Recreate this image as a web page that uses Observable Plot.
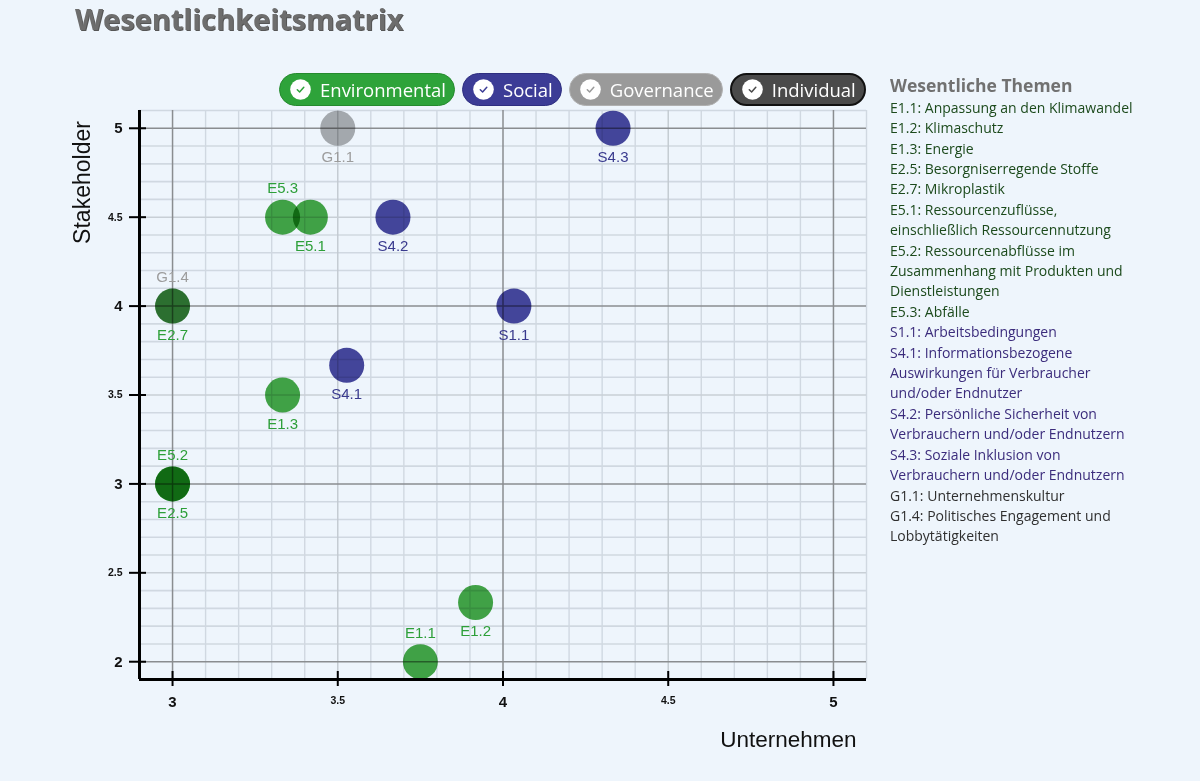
<!DOCTYPE html>
<html>
<head>
<meta charset="utf-8">
<script src="https://cdn.jsdelivr.net/npm/d3@7"></script>
<script src="https://cdn.jsdelivr.net/npm/@observablehq/plot@0.6"></script>
<style>
  html, body { margin: 0; padding: 0; background: #eef5fc; width: 1200px; height: 781px; overflow: hidden; }
  #chart { position: absolute; left: 0; top: 0; }
  #title { position: absolute; left: 75px; top: -1px; line-height: 40px; font: 700 29px "Open Sans", sans-serif; color: #6d6d6d; text-shadow: 1px 1px 0 #555; white-space: nowrap; }
  #pills { position: absolute; left: 279px; top: 73px; display: flex; gap: 7px; }
  .pill { box-sizing: border-box; height: 33px; border-radius: 17px; padding: 0 8px 0 10px; display: flex; align-items: center; gap: 9px; color: #fff; font: 400 18.5px "Open Sans", sans-serif; white-space: nowrap; }
  .pill svg { display: block; }
  #themes { position: absolute; left: 890px; top: 74px; width: 300px; }
  #themes .head { font: 700 17.5px "Open Sans", sans-serif; color: #717171; line-height: 22px; margin-bottom: 1.8px; white-space: nowrap; }
  #themes .item { font: 400 14px "Open Sans", sans-serif; line-height: 20.4px; white-space: pre-line; }
</style>
</head>
<body>
<div id="chart"></div>
<div id="title">Wesentlichkeitsmatrix</div>
<div id="pills"></div>
<div id="themes"></div>
<script>
// ---- data ----
const ids = ["E1.1","E1.2","E1.3","E2.5","E2.7","E5.1","E5.2","E5.3","S1.1","S4.1","S4.2","S4.3","G1.1","G1.4"];
const unternehmen = [3.75, 3.917, 3.333, 3, 3, 3.417, 3, 3.333, 4.033, 3.527, 3.667, 4.333, 3.5, 3];
const stakeholder = [2, 2.333, 3.5, 3, 4, 4.5, 3, 4.5, 4, 3.667, 4.5, 5, 5, 4];
const groups = ["Environmental","Environmental","Environmental","Environmental","Environmental","Environmental","Environmental","Environmental","Social","Social","Social","Social","Governance","Governance"];
const labelSide = ["above","below","below","below","below","below","above","above","below","below","below","below","below","above"];
const themeNames = [
  "Anpassung an den Klimawandel",
  "Klimaschutz",
  "Energie",
  "Besorgniserregende Stoffe",
  "Mikroplastik",
  "Ressourcenzuflüsse,\neinschließlich Ressourcennutzung",
  "Ressourcenabflüsse im\nZusammenhang mit Produkten und\nDienstleistungen",
  "Abfälle",
  "Arbeitsbedingungen",
  "Informationsbezogene\nAuswirkungen für Verbraucher\nund/oder Endnutzer",
  "Persönliche Sicherheit von\nVerbrauchern und/oder Endnutzern",
  "Soziale Inklusion von\nVerbrauchern und/oder Endnutzern",
  "Unternehmenskultur",
  "Politisches Engagement und\nLobbytätigkeiten"
];
const legendCategories = ["Environmental","Social","Governance","Individual"];
const xTickValues = [3, 3.5, 4, 4.5, 5];
const xTickLabels = ["3", "3.5", "4", "4.5", "5"];
const yTickValues = [2, 2.5, 3, 3.5, 4, 4.5, 5];
const yTickLabels = ["2", "2.5", "3", "3.5", "4", "4.5", "5"];
const xAxisTitle = "Unternehmen";
const yAxisTitle = "Stakeholder";
const listTitle = "Wesentliche Themen";

// ---- styles ----
const dotFill = {Environmental: "#259a29", Social: "#2a2a8c", Governance: "#a2a2a2"};
const labelFill = {Environmental: "#2d9f39", Social: "#393a8e", Governance: "#9c9c9c"};
const listFill = {Environmental: "#1c4a1c", Social: "#3b2c7c", Governance: "#2f2f2f"};
const pillFill = {Environmental: "#2ea33a", Social: "#3c3c96", Governance: "#9a9a9a", Individual: "#4a4a4a"};
const pillBorder = {Environmental: "#258a2e", Social: "#2e2e80", Governance: "#b0b0b0", Individual: "#111"};

const data = ids.map((id, i) => ({id, x: unternehmen[i], y: stakeholder[i], group: groups[i], side: labelSide[i]}));

const gridX = d3.range(29, 52).map(v => v / 10);
const gridY = d3.range(19, 52).map(v => v / 10);
const isInt = v => Math.abs(v - Math.round(v)) < 1e-9;
const isHalf = v => !isInt(v) && Math.abs(v * 2 - Math.round(v * 2)) < 1e-9;

const xMin = 2.9, yMin = 1.9;

const plot = Plot.plot({
  width: 880,
  height: 781,
  marginLeft: 139,
  marginRight: 14,
  marginTop: 110,
  marginBottom: 102,
  x: {domain: [2.9, 5.1], axis: null},
  y: {domain: [1.9, 5.1], axis: null},
  color: {type: "identity"},
  style: {background: "transparent", fontFamily: "'Liberation Sans', Arial, sans-serif", overflow: "visible"},
  marks: [
    // minor grid
    Plot.ruleX(gridX.filter(v => !isInt(v) && !isHalf(v) && v > 2.95), {stroke: "#d0d8e1", strokeWidth: 1.4}),
    Plot.ruleY(gridY.filter(v => !isInt(v) && !isHalf(v) && v > 1.95), {stroke: "#d0d8e1", strokeWidth: 1.6}),
    Plot.ruleX(gridX.filter(isHalf), {stroke: "#c2c9d0", strokeWidth: 1.4}),
    Plot.ruleY(gridY.filter(isHalf), {stroke: "#c8cfd6", strokeWidth: 1.6}),
    // major grid
    Plot.ruleX(gridX.filter(isInt), {stroke: "#8a8d90", strokeWidth: 1.5}),
    Plot.ruleY(gridY.filter(isInt), {stroke: "#8a8d90", strokeWidth: 1.5}),
    // points
    Plot.dot(data, {x: "x", y: "y", r: 17.5, fill: d => dotFill[d.group], fillOpacity: 0.86, mixBlendMode: "multiply"}),
    Plot.text(data.filter(d => d.side === "above"), {x: "x", y: "y", text: "id", dy: -29, fill: d => labelFill[d.group], fontSize: 15}),
    Plot.text(data.filter(d => d.side === "below"), {x: "x", y: "y", text: "id", dy: 29, fill: d => labelFill[d.group], fontSize: 15}),
    // axes lines
    Plot.ruleX([xMin], {stroke: "#000", strokeWidth: 3}),
    Plot.ruleY([yMin], {stroke: "#000", strokeWidth: 3}),
    // ticks
    Plot.ruleX(xTickValues, {y1: yMin, y2: yMin, insetTop: -8, insetBottom: -7, stroke: "#000", strokeWidth: 2}),
    Plot.ruleY(yTickValues, {x1: xMin, x2: xMin, insetLeft: -10, insetRight: -7, stroke: "#000", strokeWidth: 2}),
    // tick labels
    Plot.text(xTickValues.map((v, i) => ({v, t: xTickLabels[i]})).filter(d => isInt(d.v)),
      {x: "v", y: () => yMin, text: "t", dy: 23, fontSize: 15, fontWeight: "bold", fill: "#111"}),
    Plot.text(xTickValues.map((v, i) => ({v, t: xTickLabels[i]})).filter(d => !isInt(d.v)),
      {x: "v", y: () => yMin, text: "t", dy: 21, fontSize: 10.5, fontWeight: "bold", fill: "#111"}),
    Plot.text(yTickValues.map((v, i) => ({v, t: yTickLabels[i]})).filter(d => isInt(d.v)),
      {x: () => xMin, y: "v", text: "t", dx: -17, textAnchor: "end", fontSize: 15, fontWeight: "bold", fill: "#111"}),
    Plot.text(yTickValues.map((v, i) => ({v, t: yTickLabels[i]})).filter(d => !isInt(d.v)),
      {x: () => xMin, y: "v", text: "t", dx: -17, textAnchor: "end", fontSize: 10.5, fontWeight: "bold", fill: "#111"}),
    // axis titles
    Plot.text([xAxisTitle], {frameAnchor: "bottom-right", text: d => d, dx: -10, dy: 60, textAnchor: "end", lineAnchor: "middle", fontSize: 22.5, fill: "#111"}),
    Plot.text([yAxisTitle], {frameAnchor: "top-left", text: d => d, dx: -57, dy: 72, rotate: -90, textAnchor: "middle", lineAnchor: "middle", fontSize: 23, fill: "#111"})
  ]
});
document.getElementById("chart").appendChild(plot);

// ---- legend pills ----
const pills = d3.select("#pills");
legendCategories.forEach(c => {
  const p = pills.append("div").attr("class", "pill")
    .style("background", pillFill[c])
    .style("border", `${c === "Individual" ? 2 : 1.5}px solid ${pillBorder[c]}`);
  const s = p.append("svg").attr("width", 21).attr("height", 21).attr("viewBox", "0 0 21 21");
  s.append("circle").attr("cx", 10.5).attr("cy", 10.5).attr("r", 10.3).attr("fill", "#fff");
  s.append("path").attr("d", "M7.3 10.8 L9.6 13 L13.8 8.3").attr("fill", "none")
    .attr("stroke", pillFill[c]).attr("stroke-width", 1.5).attr("stroke-linecap", "round").attr("stroke-linejoin", "round");
  p.append("span").text(c);
});

// ---- theme list ----
const themes = d3.select("#themes");
themes.append("div").attr("class", "head").text(listTitle);
ids.forEach((id, i) => {
  themes.append("div").attr("class", "item").style("color", listFill[groups[i]]).text(`${id}: ${themeNames[i]}`);
});
</script>
</body>
</html>
